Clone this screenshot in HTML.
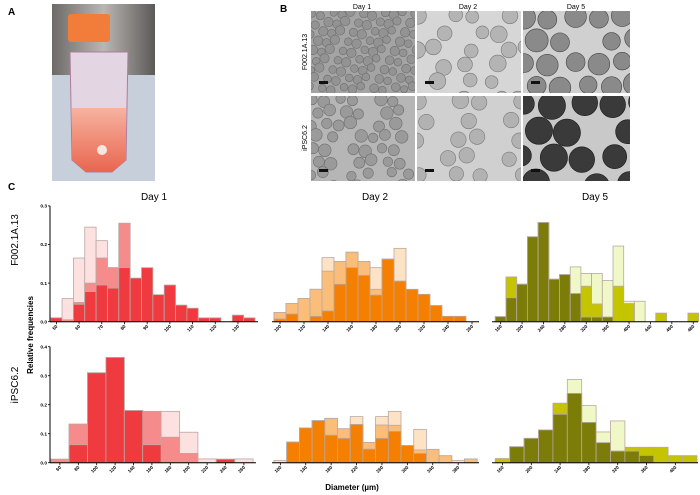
<!DOCTYPE html>
<html><head><meta charset="utf-8"><style>
html,body{margin:0;padding:0;background:#fff;}
svg{display:block;font-family:"Liberation Sans",sans-serif;}
</style></head><body>
<svg id="fig" width="700" height="495" viewBox="0 0 700 495" xmlns="http://www.w3.org/2000/svg">
<defs>
<linearGradient id="liq" x1="0" y1="0" x2="0" y2="1"><stop offset="0" stop-color="#f7b3a0"/><stop offset="1" stop-color="#e8664f"/></linearGradient>
<linearGradient id="bgA" x1="0" y1="0" x2="1" y2="0"><stop offset="0" stop-color="#6d6a68"/><stop offset="0.5" stop-color="#b9b6b3"/><stop offset="1" stop-color="#5c5a58"/></linearGradient>
</defs>
<g>
<text x="8" y="15" font-size="10" font-weight="bold">A</text>
<rect x="52" y="4" width="103" height="177" fill="url(#bgA)"/>
<rect x="52" y="75" width="103" height="106" fill="#c7d0da"/>
<rect x="68" y="14" width="42" height="28" rx="3" fill="#f27d3a"/>
<path d="M70 52 L128 52 L126 160 L112 172 L86 172 L72 160 Z" fill="#e4d5e2" stroke="#b07aa0" stroke-width="1"/>
<path d="M72 108 L126 108 L126 160 L112 172 L86 172 L72 160 Z" fill="url(#liq)"/>
<circle cx="102" cy="150" r="5" fill="#f5e6de"/>
</g>
<g id="panelB">
<text x="280" y="12" font-size="10" font-weight="bold">B</text>
<text x="362" y="9" font-size="7" text-anchor="middle">Day 1</text>
<text x="468" y="9" font-size="7" text-anchor="middle">Day 2</text>
<text x="576" y="9" font-size="7" text-anchor="middle">Day 5</text>
<text transform="translate(307,52) rotate(-90)" font-size="7" text-anchor="middle">F002.1A.13</text>
<text transform="translate(307,138) rotate(-90)" font-size="7" text-anchor="middle">iPSC6.2</text>
</g>
<g>
<text x="8" y="190" font-size="10" font-weight="bold">C</text>
<text x="154" y="200" font-size="10" text-anchor="middle">Day 1</text>
<text x="375" y="200" font-size="10" text-anchor="middle">Day 2</text>
<text x="595" y="200" font-size="10" text-anchor="middle">Day 5</text>
<text transform="translate(18,240) rotate(-90)" font-size="10" text-anchor="middle">F002.1A.13</text>
<text transform="translate(18,385) rotate(-90)" font-size="10" text-anchor="middle">iPSC6.2</text>
<text transform="translate(33,335) rotate(-90)" font-size="8" font-weight="bold" text-anchor="middle">Relative frequencies</text>
<text x="352" y="490" font-size="8" font-weight="bold" text-anchor="middle">Diameter (µm)</text>
</g>
<g id="charts"></g>
</svg>
<script>
const d1TopDark  = [0.01,0,0.045,0.078,0.095,0.087,0.14,0.113,0.14,0.07,0.095,0.043,0.035,0.01,0.01,0,0.017,0.01];
const d1TopMed   = [0.01,0.005,0.05,0.1,0.165,0.14,0.255,0,0,0,0,0,0,0,0,0,0,0];
const d1TopLight = [0.01,0.06,0.165,0.245,0.21,0.14,0.255,0,0,0,0,0,0,0,0,0,0,0];
const d1TopTicks = ["50","60","70","80","90","100","110","120","130"];
const d1BotDark  = [0,0.062,0.31,0.363,0.18,0.062,0,0,0,0.012,0];
const d1BotMed   = [0.012,0.133,0.31,0.363,0.18,0.177,0.088,0.032,0,0,0];
const d1BotLight = [0.012,0.133,0.31,0.363,0.18,0.177,0.177,0.105,0.013,0.012,0.013];
const d1BotTicks = ["60","80","100","120","140","160","180","200","220","240","260"];
const d2TopDark  = [0.007,0.02,0,0.014,0.028,0.097,0.14,0.12,0.069,0.162,0.105,0.084,0.071,0.042,0.014,0.014];
const d2TopMed   = [0.024,0.047,0.06,0.084,0.131,0.156,0.18,0.156,0.084,0.162,0.105,0,0,0,0,0];
const d2TopLight = [0.024,0.047,0.06,0.084,0.166,0.156,0.18,0.156,0.14,0.162,0.19,0,0,0,0,0];
const d2TopTicks = ["100","120","140","160","180","200","220","240","260"];
const d2BotDark  = [0,0.071,0.12,0.145,0.095,0.084,0.132,0.047,0.084,0.108,0.059,0.032,0,0,0,0];
const d2BotMed   = [0,0.071,0.12,0.145,0.153,0.117,0.132,0.07,0.13,0.129,0.059,0.044,0.046,0.024,0,0.013];
const d2BotLight = [0.008,0.071,0.12,0.145,0.153,0.117,0.159,0.07,0.159,0.177,0.059,0.115,0.046,0.024,0.008,0.013];
const d2BotTicks = ["100","140","180","220","260","300","340","380"];
const d5TopDark  = [0.013,0.062,0.097,0.22,0.257,0.11,0.122,0.073,0.012,0.012,0.012,0,0,0,0,0,0,0,0];
const d5TopMed   = [0.013,0.116,0.097,0.22,0.257,0.11,0.122,0.073,0.092,0.046,0.012,0.092,0.047,0,0,0.022,0,0,0.022];
const d5TopLight = [0.013,0.116,0.097,0.22,0.257,0.11,0.122,0.142,0.125,0.125,0.107,0.196,0.053,0.053,0,0.022,0,0,0.022];
const d5TopTicks = ["160","200","240","280","320","360","400","440","460","480"];
const d5BotDark  = [0,0.055,0.084,0.113,0.167,0.239,0.139,0.069,0.04,0.04,0.025,0,0,0];
const d5BotMed   = [0.014,0.055,0.084,0.113,0.205,0.239,0.139,0.069,0.04,0.053,0.053,0.053,0.024,0.024];
const d5BotLight = [0.014,0.055,0.084,0.113,0.205,0.287,0.197,0.106,0.144,0.053,0.053,0.053,0.024,0.024];
const d5BotTicks = ["160","200","240","280","320","360","400"];

const NS = "http://www.w3.org/2000/svg";
const charts = document.getElementById('charts');
function mk(tag, attrs, parent){
  const e = document.createElementNS(NS, tag);
  for (const k in attrs) e.setAttribute(k, attrs[k]);
  (parent||charts).appendChild(e); return e;
}
const RED = ["#fde0e0","#f58b8b","#ef3b40"];
const ORA = ["#fde3c5","#fbbd7a","#f57f00"];
const OLV = ["#f0f8c8","#c4c400","#7c7c08"];

function panel(name, x0, binW, y0, per01, axisL, axisR, series, colors, ticks, tickEvery, yMax){
  const g = mk('g', {});
  
  
  const xs = i => x0 + i*binW;
  const ys = v => y0 - v/0.1*per01;
  const labels = ['light','medium','dark'];
  for (let s=0; s<3; s++){
    series[s].forEach((v,i)=>{
      if (v<=0) return;
      const r = mk('rect', {x:xs(i), y:ys(v), width:binW, height:y0-ys(v), fill:colors[s], stroke:'#b9a9a3', 'stroke-width':0.8}, g);
      
      
    });
  }
  const ax = mk('line', {x1:axisL, x2:axisR, y1:y0, y2:y0, stroke:'#000', 'stroke-width':1}, g);
  
  
  ticks.forEach((t,k)=>{
    const cx = xs(k*tickEvery) + binW/2;
    if (cx > axisR+2) return;
    mk('line', {x1:cx, x2:cx, y1:y0, y2:y0+2.5, stroke:'#000', 'stroke-width':0.8}, g);
    const tx = mk('text', {transform:'translate('+(cx+1.5)+','+(y0+5)+') rotate(-45)', 'font-size':4.6, 'font-weight':'bold', 'text-anchor':'end'}, g);
    tx.textContent = t;
    
    
  });
  if (yMax){
    const yl = mk('line', {x1:axisL, x2:axisL, y1:ys(yMax), y2:y0, stroke:'#000', 'stroke-width':1}, g);
    
    
    for (let v=0; v<=yMax+1e-9; v+=0.1){
      mk('line', {x1:axisL-2, x2:axisL, y1:ys(v), y2:ys(v), stroke:'#000', 'stroke-width':0.8}, g);
      const tl = mk('text', {x:axisL-3, y:ys(v)+1.7, 'font-size':4.8, 'font-weight':'bold', 'text-anchor':'end'}, g);
      tl.textContent = v.toFixed(1);
      
      
    }
  }
}
panel('day1-f002', 50.7, 11.35, 321.7, 38.6, 50, 258, [d1TopLight,d1TopMed,d1TopDark], RED, d1TopTicks, 2, 0.3);
panel('day1-ipsc', 50.7, 18.4, 462.7, 29, 50, 256, [d1BotLight,d1BotMed,d1BotDark], RED, d1BotTicks, 1, 0.4);
panel('day2-f002', 274, 12, 321.7, 38.6, 272, 479, [d2TopLight,d2TopMed,d2TopDark], ORA, d2TopTicks, 2, 0);
panel('day2-ipsc', 274, 12.7, 462.7, 29, 272, 479, [d2BotLight,d2BotMed,d2BotDark], ORA, d2BotTicks, 2, 0);
panel('day5-f002', 495.3, 10.7, 321.7, 38.6, 492, 698, [d5TopLight,d5TopMed,d5TopDark], OLV, d5TopTicks, 2, 0);
panel('day5-ipsc', 495.3, 14.4, 462.7, 29, 492, 698, [d5BotLight,d5BotMed,d5BotDark], OLV, d5BotTicks, 2, 0);

// Panel B micrographs (decorative)
const pb = document.getElementById('panelB');
const imgs = [
  [311,11,104,82,'#a4a4a4','#939393','#6f6f6f',4.5,1.0],[417,11,104,82,'#d6d6d6','#b4b4b4','#777',8,0.55],[523,11,107,82,'#d0d0d0','#8a8a8a','#444',11,0.95],
  [311,96,104,85,'#b6b6b6','#9a9a9a','#6f6f6f',6,0.75],[417,96,104,85,'#d0d0d0','#b2b2b2','#7a7a7a',9,0.65],[523,96,107,85,'#c9c9c9','#3a3a3a','#1c1c1c',13,0.9]
];
imgs.forEach((m,idx)=>{
  const g = mk('g', {}, pb);
  
  
  const cp = 'cp'+idx;
  const c = mk('clipPath', {id:cp}, g); mk('rect', {x:m[0], y:m[1], width:m[2], height:m[3]}, c);
  const inner = mk('g', {'clip-path':'url(#'+cp+')'}, g);
  mk('rect', {x:m[0], y:m[1], width:m[2], height:m[3], fill:m[4]}, inner);
  const r = m[7], step = r*2.3;
  let row=0, n=0;
  for (let y=m[1]+r*0.6; y<m[1]+m[3]+r; y+=step*0.9, row++){
    for (let x=m[0]+(row%2?step/2:0); x<m[0]+m[2]+r; x+=step){
      n++;
      if (((n*37)%100)/100 > m[8]) continue;
      const rr = r*(0.8+0.25*(((x*7+y*13)|0)%5)/4);
      mk('circle', {cx:x+((n*13)%5-2), cy:y+((n*7)%5-2), r:rr, fill:m[5], stroke:m[6], 'stroke-width':0.6}, inner);
    }
  }
  mk('rect', {x:m[0]+8, y:m[1]+m[3]-12, width:9, height:3, fill:'#111'}, inner);
});
</script>
</body></html>
